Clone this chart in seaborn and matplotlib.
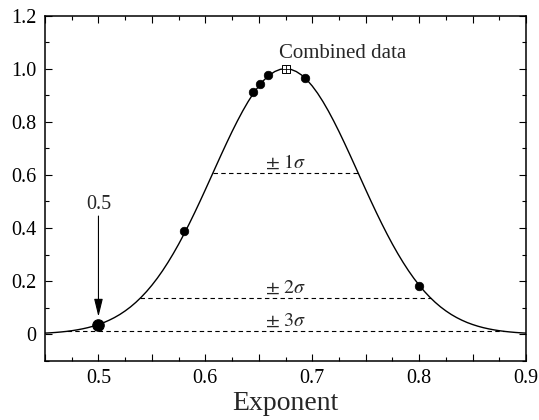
import numpy as np
import pandas as pd
import seaborn as sns
import matplotlib
matplotlib.use("Agg")
import matplotlib.pyplot as plt
from matplotlib.ticker import MultipleLocator, FuncFormatter

# Fitted likelihood curve, sampled every 0.005 in the exponent
curve_x = [round(0.45 + 0.005 * i, 3) for i in range(91)]
half_curve = [1.0, 0.9973, 0.9892, 0.9760, 0.9577, 0.9346, 0.9073, 0.8759, 0.8411,
              0.8033, 0.7632, 0.7210, 0.6776, 0.6333, 0.5887, 0.5443, 0.5005, 0.4578,
              0.4165, 0.3769, 0.3391, 0.3036, 0.2703, 0.2393, 0.2107, 0.1846, 0.1608,
              0.1394, 0.1201, 0.1029, 0.0878, 0.0744, 0.0628, 0.0527, 0.0439, 0.0365,
              0.0301, 0.0247, 0.0202, 0.0164, 0.0132, 0.0106, 0.0085, 0.0067, 0.0053,
              0.0042]
curve_y = half_curve[::-1] + half_curve[1:]

# Individual measurements
meas_x = [0.580, 0.645, 0.651, 0.659, 0.693, 0.800]
meas_y = [0.389, 0.913, 0.944, 0.976, 0.966, 0.181]

# Highlighted value at 0.5
ref_x = [0.5]
ref_y = [0.035]

# Combined data point
comb_x = [0.675]
comb_y = [1.0]

# Confidence intervals: level, lower and upper exponent
sigma_names = ["1", "2", "3"]
sigma_level = [0.607, 0.137, 0.012]
sigma_lo = [0.607, 0.539, 0.471]
sigma_hi = [0.743, 0.811, 0.879]

sns.set_theme(style="ticks")
plt.rcParams["font.family"] = ["Liberation Serif", "DejaVu Serif"]
plt.rcParams["mathtext.fontset"] = "stix"

fig = plt.figure(figsize=(5.39, 4.20), dpi=100)
ax = fig.add_axes([0.0835, 0.141, 0.8925, 0.822])

curve = pd.DataFrame({"x": curve_x, "y": curve_y})
sns.lineplot(data=curve, x="x", y="y", color="black", linewidth=1.0, ax=ax)

for lvl, lo, hi in zip(sigma_level, sigma_lo, sigma_hi):
    ax.plot([lo, hi], [lvl, lvl], color="black", linewidth=0.8,
            linestyle=(0, (4, 3)))

for name, lvl in zip(sigma_names, sigma_level):
    ax.text(0.675, lvl + 0.018, r"$\pm\ " + name + r"\sigma$", ha="center",
            va="baseline", fontsize=14.3)

meas = pd.DataFrame({"x": meas_x, "y": meas_y})
sns.scatterplot(data=meas, x="x", y="y", color="black", s=38, edgecolor="black",
                linewidth=0.5, ax=ax, zorder=5)
sns.scatterplot(x=ref_x, y=ref_y, color="black", s=68, edgecolor="black",
                linewidth=0.8, ax=ax, zorder=5)
ax.scatter(comb_x, comb_y, marker="s", s=32, facecolor="white",
           edgecolor="black", linewidth=0.7, zorder=6)
ax.scatter(comb_x, comb_y, marker="+", s=32, color="black", linewidth=0.6,
           zorder=7)

ax.text(0.6685, 1.04, "Combined data", ha="left", va="baseline", fontsize=15)

ax.annotate("", xy=(ref_x[0], 0.066), xytext=(ref_x[0], 0.445),
            arrowprops=dict(arrowstyle="-|>,head_length=0.9,head_width=0.22",
                            mutation_scale=12, color="black", lw=0.8,
                            shrinkA=0, shrinkB=0))
ax.text(ref_x[0], 0.487, "0.5", ha="center", va="center", fontsize=14.5)

ax.set_xlim(0.45, 0.9)
ax.set_ylim(-0.1, 1.2)
ax.xaxis.set_major_locator(MultipleLocator(0.05))
ax.xaxis.set_minor_locator(MultipleLocator(0.025))
ax.yaxis.set_major_locator(MultipleLocator(0.2))
ax.yaxis.set_minor_locator(MultipleLocator(0.1))


def xfmt(v, _):
    k = round(v * 20)
    if k % 2 == 0 and abs(v * 20 - k) < 1e-6 and v > 0.46:
        return f"{v:.1f}"
    return ""


def yfmt(v, _):
    if v < -0.05:
        return ""
    if abs(v) < 1e-6:
        return "0"
    return f"{v:.1f}"


ax.xaxis.set_major_formatter(FuncFormatter(xfmt))
ax.yaxis.set_major_formatter(FuncFormatter(yfmt))
ax.tick_params(which="both", direction="in", top=True, right=True,
               colors="black", labelsize=14.5)
ax.tick_params(which="major", length=5, width=0.8, pad=6)
ax.tick_params(which="minor", length=2.8, width=0.8)
for sp in ax.spines.values():
    sp.set_linewidth(1.1)
    sp.set_color("black")
    sp.set_visible(True)

ax.set_xlabel("Exponent", fontsize=20, labelpad=2)
ax.set_ylabel("")

fig.savefig("out.png", dpi=100)
